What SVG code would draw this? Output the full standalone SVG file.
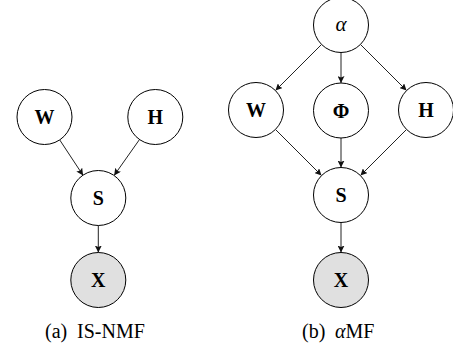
<svg xmlns="http://www.w3.org/2000/svg" width="453" height="349" viewBox="0 0 453 349">
<style>
.n{fill:#fff;stroke:#000;stroke-width:1}
.obs{fill:#e0e0e0;stroke:#000;stroke-width:1}
text{font-family:'Liberation Serif','Times New Roman',Times,'DejaVu Serif',serif}
.lb{font-weight:bold;font-size:20px;text-anchor:middle}
.gr{font-style:italic;font-size:21px;text-anchor:middle}
.cap{font-size:20px}
.e{stroke:#222;stroke-width:1;fill:none;marker-end:url(#ah)}
</style>
<defs>
<marker id="ah" viewBox="0 0 10 10" refX="10" refY="5" markerWidth="7" markerHeight="7" markerUnits="userSpaceOnUse" orient="auto">
<path d="M0,0 L10,5 L0,10 L2,5 z" fill="#111"/>
</marker>
</defs>
<g id="connectors">
<line class="e" x1="59.7" y1="139.9" x2="83.1" y2="175.4"/>
<line class="e" x1="139.5" y1="139.5" x2="114.1" y2="175.5"/>
<line class="e" x1="98.3" y1="225.5" x2="98.3" y2="252.5"/>
<line class="e" x1="321.55" y1="44.45" x2="275.45" y2="90.55"/>
<line class="e" x1="341" y1="52.5" x2="341" y2="83"/>
<line class="e" x1="360.45" y1="44.45" x2="406.55" y2="90.55"/>
<line class="e" x1="275.45" y1="129.45" x2="321.55" y2="175.55"/>
<line class="e" x1="341" y1="138" x2="341" y2="167.5"/>
<line class="e" x1="406.55" y1="129.45" x2="360.45" y2="175.55"/>
<line class="e" x1="341" y1="222.5" x2="341" y2="252.5"/>
</g>
<g id="a-W"><circle class="n" cx="44.5" cy="117" r="27.5"/><text class="lb" x="44.5" y="124">W</text></g>
<g id="a-H"><circle class="n" cx="155.3" cy="117" r="27.5"/><text class="lb" x="155.3" y="124">H</text></g>
<g id="a-S"><circle class="n" cx="98.3" cy="198" r="27.5"/><text class="lb" x="98.3" y="205">S</text></g>
<g id="a-X"><circle class="obs" cx="98.3" cy="280" r="27.5"/><text class="lb" x="98.3" y="287">X</text></g>
<g id="b-alpha"><circle class="n" cx="341" cy="25" r="27.5"/><text class="gr" x="341" y="30.5">α</text></g>
<g id="b-W"><circle class="n" cx="256" cy="110" r="27.5"/><text class="lb" x="256" y="117">W</text></g>
<g id="b-Phi"><circle class="n" cx="341" cy="110.5" r="27.5"/><text class="lb" x="341" y="117.5">Φ</text></g>
<g id="b-H"><circle class="n" cx="426" cy="110" r="27.5"/><text class="lb" x="426" y="117">H</text></g>
<g id="b-S"><circle class="n" cx="341" cy="195" r="27.5"/><text class="lb" x="341" y="202">S</text></g>
<g id="b-X"><circle class="obs" cx="341" cy="280" r="27.5"/><text class="lb" x="341" y="287">X</text></g>
<g id="captions">
<text class="cap" x="45" y="338">(a)</text>
<text class="cap" x="77" y="338">IS-NMF</text>
<text class="cap" x="302" y="338">(b)</text>
<text class="cap" x="335" y="338"><tspan font-style="italic">α</tspan>MF</text>
</g>
</svg>
